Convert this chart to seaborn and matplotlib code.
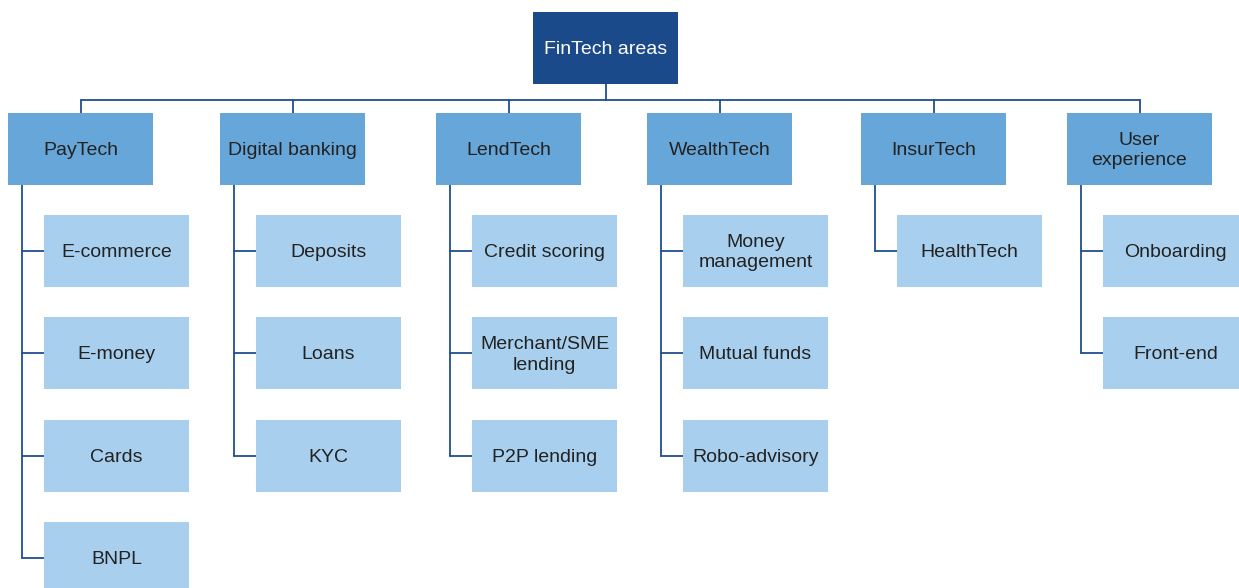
import matplotlib
matplotlib.use("Agg")
import matplotlib.pyplot as plt
from matplotlib.patches import Rectangle
import seaborn as sns

# tree data
root = "FinTech areas"
areas = ["PayTech", "Digital banking", "LendTech", "WealthTech", "InsurTech", "User\nexperience"]
children = [
    ["E-commerce", "E-money", "Cards", "BNPL"],
    ["Deposits", "Loans", "KYC"],
    ["Credit scoring", "Merchant/SME\nlending", "P2P lending"],
    ["Money\nmanagement", "Mutual funds", "Robo-advisory"],
    ["HealthTech"],
    ["Onboarding", "Front-end"],
]

sns.set_theme(style="white")
plt.rcParams["font.family"] = ["Liberation Sans", "DejaVu Sans"]

c_root = "#1a4a8a"
c_area = "#67a6d8"
c_child = "#a8d0ee"
c_line = "#1f4e91"
c_text = "#222222"

fig = plt.figure(figsize=(12.39, 5.88), dpi=100)
ax = fig.add_axes([0, 0, 1, 1])
ax.set_xlim(0, 1239)
ax.set_ylim(588, 0)
ax.axis("off")

bw, bh = 145, 72
fs = 14


def box(x, y, label, fc, tc):
    ax.add_patch(Rectangle((x, y), bw, bh, facecolor=fc, edgecolor="none", zorder=2))
    ax.text(x + bw / 2, y + bh / 2 + 1.5, label, ha="center", va="center", color=tc,
            fontsize=fs, linespacing=1.3, zorder=3)


# root
root_x, root_y = 533, 12
box(root_x, root_y, root, c_root, "white")
bus_y = 100
ax.plot([root_x + bw / 2] * 2, [root_y + bh, bus_y], color=c_line, lw=1.3, zorder=1)

# layout: left edges of the second-level boxes
area_xs = [8, 220, 436, 647, 861, 1067]
area_y = 113
ax.plot([area_xs[0] + bw / 2, area_xs[-1] + bw / 2], [bus_y, bus_y], color=c_line, lw=1.3, zorder=1)

child_y0, child_step = 215, 102.3
for ax_x, name, kids in zip(area_xs, areas, children):
    ax.plot([ax_x + bw / 2] * 2, [bus_y, area_y], color=c_line, lw=1.3, zorder=1)
    box(ax_x, area_y, name, c_area, c_text)
    trunk_x = ax_x + 14
    kid_x = ax_x + 36
    cys = [child_y0 + j * child_step + bh / 2 for j in range(len(kids))]
    ax.plot([trunk_x, trunk_x], [area_y + bh, cys[-1]], color=c_line, lw=1.3, zorder=1)
    for j, k in enumerate(kids):
        ax.plot([trunk_x, kid_x], [cys[j], cys[j]], color=c_line, lw=1.3, zorder=1)
        box(kid_x, child_y0 + j * child_step, k, c_child, c_text)

fig.savefig("out.png", dpi=100, facecolor="white")
